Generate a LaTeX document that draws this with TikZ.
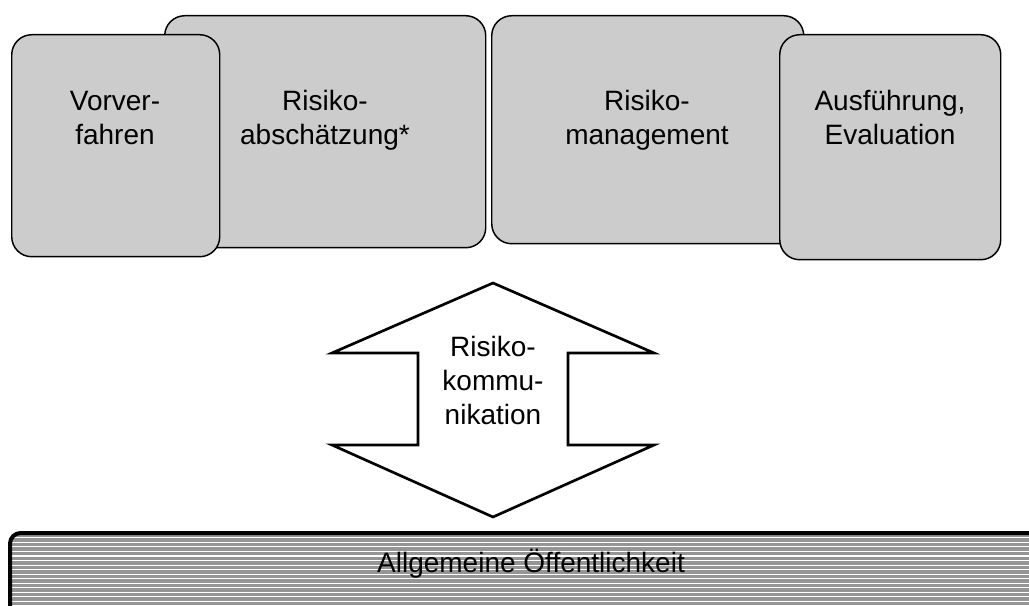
\documentclass[tikz,border=0pt]{standalone}
\usepackage{fontspec}
\setmainfont{Liberation Sans}
\definecolor{boxgray}{HTML}{CCCCCC}
\definecolor{bargray}{HTML}{959595}
\begin{document}
\begin{tikzpicture}[x=0.75pt,y=-0.75pt,
  box/.style={draw=black, line width=1.1pt, fill=boxgray, rounded corners=15pt,
    inner sep=0pt, anchor=north west},
  lbl/.style={font=\fontsize{21}{25.5}\selectfont, align=center, anchor=base, inner sep=0pt},
  arrowshape/.style={draw=black, line width=2pt, fill=white, line join=miter}]
\useasboundingbox (0,0) rectangle (1029,606);

% back boxes
\node[box, minimum width=321*0.75pt, minimum height=232*0.75pt] (abs) at (164,15) {};
\node[box, minimum width=208*0.75pt, minimum height=222*0.75pt] (vor) at (11,34) {};
\node[box, minimum width=312*0.75pt, minimum height=228*0.75pt] (man) at (491,15) {};
\node[box, minimum width=221*0.75pt, minimum height=225*0.75pt] (aus) at (779,34) {};

\node[lbl] (tvor) at (115,145) {Vorver-\\fahren};
\node[lbl] (tabs) at (325,145) {Risiko-\\abschätzung*};
\node[lbl] (tman) at (647,145) {Risiko-\\management};
\node[lbl] (taus) at (890,145) {Ausführung,\\Evaluation};

% double arrow
\coordinate (atop) at (493,283);
\coordinate (abot) at (493,517);
\draw[arrowshape] (atop) -- (654,353) -- (568,353) -- (568,445) -- (654,445)
  -- (abot) -- (332,445) -- (418,445) -- (418,353) -- (332,353) -- cycle;
\node[lbl] (komm) at (493,424) {Risiko-\\kommu-\\nikation};

% bottom bar
\begin{scope}
  \clip[rounded corners=8pt] (10,533) rectangle (1060,620);
  \fill[bargray] (10,533) rectangle (1060,620);
  \foreach \i in {0,...,18} {
    \fill[white] (10,{537.2+\i*4.55}) rectangle (1060,{538.3+\i*4.55});
  }
\end{scope}
\draw[line width=3pt, rounded corners=8pt] (1060,533) -- (10,533) -- (10,620);
\node[font=\fontsize{21}{25.5}\selectfont, anchor=base, inner sep=0pt] (pub) at (531,572) {Allgemeine Öffentlichkeit};
\end{tikzpicture}
\end{document}
